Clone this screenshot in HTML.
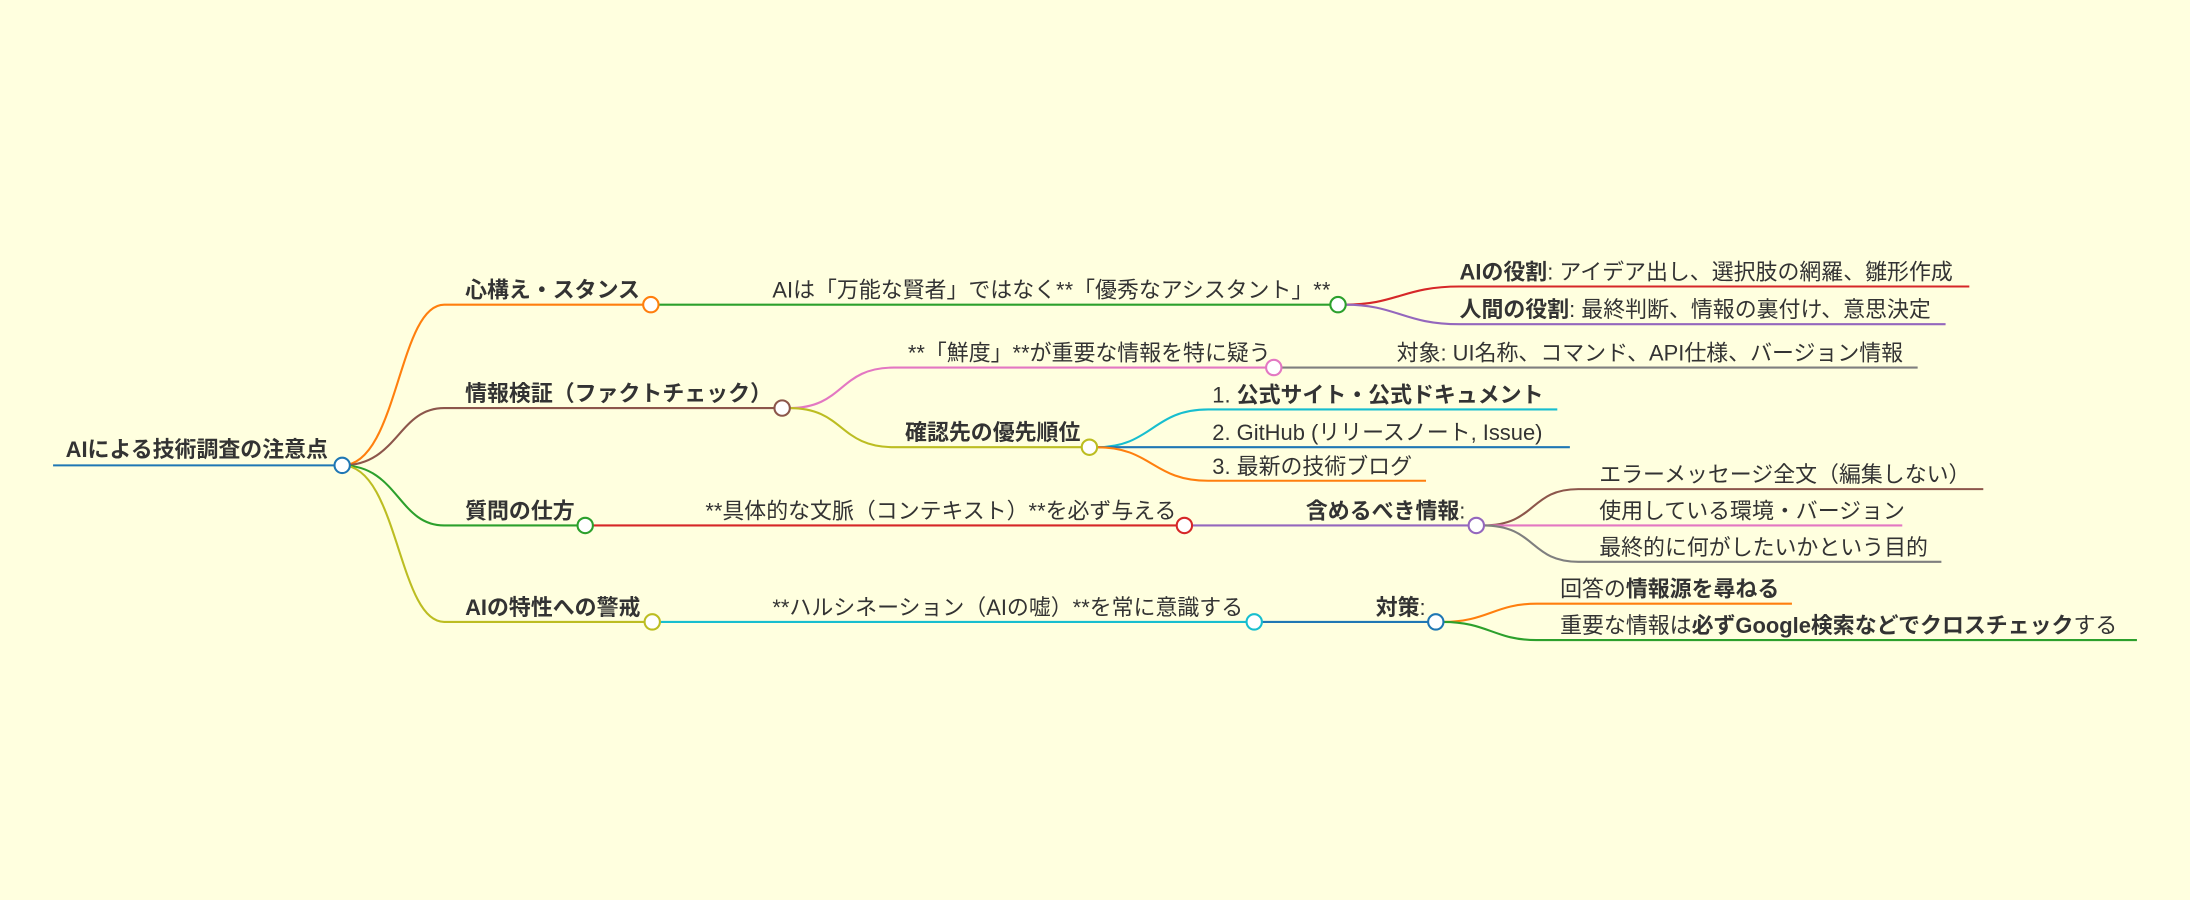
<!DOCTYPE html>
<html><head><meta charset="utf-8"><style>
html,body{margin:0;padding:0;background:#ffffdf;}
svg{display:block}
text{font-family:"Liberation Sans","Noto Sans CJK JP",sans-serif;font-size:15.7px;fill:#333}
.b{font-weight:bold}
path,line{fill:none;stroke-width:1.5}
circle{fill:#fff;stroke-width:1.5}
</style></head><body>
<svg width="2190" height="900" viewBox="0 0 1568 644" preserveAspectRatio="none">
<rect width="1568" height="644" fill="#ffffdf"/>
<line x1="38" y1="333" x2="240" y2="333" stroke="#1f77b4" stroke-width="3"/>
<text x="47" y="327" class="b">AIによる技術調査の注意点</text>
<path d="M245 333 C285 333 285 218 318 218 L461 218" stroke="#ff7f0e"/>
<path d="M245 333 C285 333 285 292 318 292 L555 292" stroke="#8c564b"/>
<path d="M245 333 C285 333 285 376 318 376 L414 376" stroke="#2ca02c"/>
<path d="M245 333 C285 333 285 445 318 445 L462 445" stroke="#bcbd22"/>
<text x="333" y="213" class="b">心構え・スタンス</text>
<text x="333" y="287" class="b">情報検証（ファクトチェック）</text>
<text x="333" y="371" class="b">質問の仕方</text>
<text x="333" y="440" class="b">AIの特性への警戒</text>
<line x1="471" y1="218" x2="953" y2="218" stroke="#2ca02c"/>
<text x="553" y="213">AIは「万能な賢者」ではなく**「優秀なアシスタント」**</text>
<path d="M963 218 C1000 218 1005 205 1045 205 L1410 205" stroke="#d62728"/>
<path d="M963 218 C1000 218 1005 232 1045 232 L1393 232" stroke="#9467bd"/>
<text x="1045" y="200"><tspan class="b">AIの役割</tspan>: アイデア出し、選択肢の網羅、雛形作成</text>
<text x="1045" y="227"><tspan class="b">人間の役割</tspan>: 最終判断、情報の裏付け、意思決定</text>
<path d="M565 292 C605 292 600 263 640 263 L907 263" stroke="#e377c2"/>
<text x="650" y="258">**「鮮度」**が重要な情報を特に疑う</text>
<line x1="917" y1="263" x2="1373" y2="263" stroke="#7f7f7f"/>
<text x="1000" y="258">対象: UI名称、コマンド、API仕様、バージョン情報</text>
<path d="M565 292 C605 292 600 320 640 320 L775 320" stroke="#bcbd22"/>
<text x="648" y="315" class="b">確認先の優先順位</text>
<path d="M785 320 C825 320 825 293 865 293 L1115 293" stroke="#17becf"/>
<line x1="785" y1="320" x2="1124" y2="320" stroke="#1f77b4"/>
<path d="M785 320 C825 320 825 344 865 344 L1021 344" stroke="#ff7f0e"/>
<text x="868" y="288">1. <tspan class="b">公式サイト・公式ドキュメント</tspan></text>
<text x="868" y="315">2. GitHub (リリースノート, Issue)</text>
<text x="868" y="339">3. 最新の技術ブログ</text>
<line x1="424" y1="376" x2="843" y2="376" stroke="#d62728"/>
<text x="505" y="371">**具体的な文脈（コンテキスト）**を必ず与える</text>
<line x1="853" y1="376" x2="1052" y2="376" stroke="#9467bd"/>
<text x="935" y="371"><tspan class="b">含めるべき情報</tspan>:</text>
<path d="M1062 376 C1100 376 1095 350 1130 350 L1420 350" stroke="#8c564b"/>
<line x1="1062" y1="376" x2="1362" y2="376" stroke="#e377c2"/>
<path d="M1062 376 C1100 376 1095 402 1130 402 L1390 402" stroke="#7f7f7f"/>
<text x="1145" y="345">エラーメッセージ全文（編集しない）</text>
<text x="1145" y="371">使用している環境・バージョン</text>
<text x="1145" y="397">最終的に何がしたいかという目的</text>
<line x1="472" y1="445" x2="893" y2="445" stroke="#17becf"/>
<text x="553" y="440">**ハルシネーション（AIの嘘）**を常に意識する</text>
<line x1="903" y1="445" x2="1023" y2="445" stroke="#1f77b4"/>
<text x="985" y="440"><tspan class="b">対策</tspan>:</text>
<path d="M1033 445 C1065 445 1070 432 1100 432 L1283 432" stroke="#ff7f0e"/>
<path d="M1033 445 C1065 445 1070 458 1100 458 L1530 458" stroke="#2ca02c"/>
<text x="1117" y="427">回答の<tspan class="b">情報源を尋ねる</tspan></text>
<text x="1117" y="453">重要な情報は<tspan class="b">必ずGoogle検索などでクロスチェック</tspan>する</text>
<circle cx="245" cy="333" r="5.5" stroke="#1f77b4"/>
<circle cx="466" cy="218" r="5.5" stroke="#ff7f0e"/>
<circle cx="560" cy="292" r="5.5" stroke="#8c564b"/>
<circle cx="419" cy="376" r="5.5" stroke="#2ca02c"/>
<circle cx="467" cy="445" r="5.5" stroke="#bcbd22"/>
<circle cx="958" cy="218" r="5.5" stroke="#2ca02c"/>
<circle cx="912" cy="263" r="5.5" stroke="#e377c2"/>
<circle cx="780" cy="320" r="5.5" stroke="#bcbd22"/>
<circle cx="848" cy="376" r="5.5" stroke="#d62728"/>
<circle cx="1057" cy="376" r="5.5" stroke="#9467bd"/>
<circle cx="898" cy="445" r="5.5" stroke="#17becf"/>
<circle cx="1028" cy="445" r="5.5" stroke="#1f77b4"/>
</svg>
</body></html>
